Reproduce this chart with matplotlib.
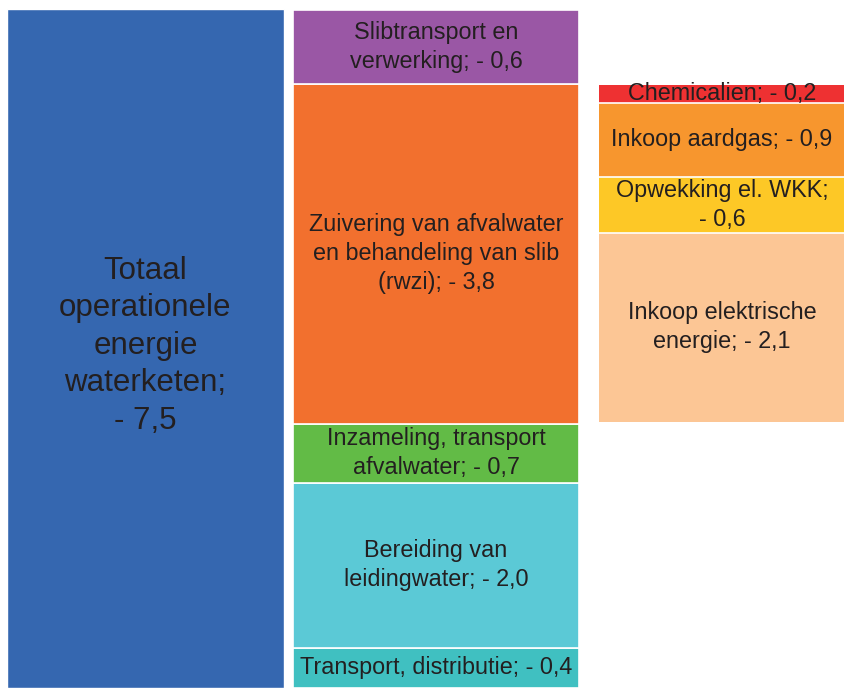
import matplotlib.pyplot as plt

plt.rcParams['font.family'] = ['Liberation Sans', 'DejaVu Sans']

# kolom 1: totaal
totaal_label = 'Totaal\noperationele\nenergie\nwaterketen;\n- 7,5'
totaal_hoogte = 7.55

# kolom 2: ketenstappen (van onder naar boven)
keten_labels = ['Transport, distributie; - 0,4',
                'Bereiding van\nleidingwater; - 2,0',
                'Inzameling, transport\nafvalwater; - 0,7',
                'Zuivering van afvalwater\nen behandeling van slib\n(rwzi); - 3,8',
                'Slibtransport en\nverwerking; - 0,6']
keten_hoogte = [0.45, 1.83, 0.66, 3.78, 0.82]
keten_kleuren = ['#40C0C1', '#5BC9D6', '#62BB46', '#F2702E', '#9A57A5']

# kolom 3: uitsplitsing rwzi (van onder naar boven)
rwzi_labels = ['Inkoop elektrische\nenergie; - 2,1',
               'Opwekking el. WKK;\n- 0,6',
               'Inkoop aardgas; - 0,9',
               'Chemicalien; - 0,2']
rwzi_hoogte = [2.10, 0.62, 0.83, 0.20]
rwzi_kleuren = ['#FCC695', '#FDC826', '#F7962E', '#EE3132']

fig = plt.figure(figsize=(8.45, 6.88), dpi=100)
ax = fig.add_axes([0, 0, 1, 1])

tekst = dict(ha='center', va='center', color='#231F20', fontsize=16.8, linespacing=1.32)

# totaal
ax.bar(7, totaal_hoogte, width=277, align='edge', color='#3567B0',
       edgecolor='white', linewidth=1)
ax.text(7 + 277 / 2, totaal_hoogte / 2 + 0.03, totaal_label, ha='center', va='center',
        color='#231F20', fontsize=22.5, linespacing=1.32)

# ketenstappen
onder = 0
for lab, h, kl in zip(keten_labels, keten_hoogte, keten_kleuren):
    ax.bar(293, h, width=286, bottom=onder, align='edge', color=kl,
           edgecolor='white', linewidth=1.2)
    ax.text(293 + 286 / 2, onder + h / 2, lab, **tekst)
    onder += h

# rwzi uitsplitsing, begint onder het rwzi-blok
onder = sum(keten_hoogte[:3]) + 0.02
for lab, h, kl in zip(rwzi_labels, rwzi_hoogte, rwzi_kleuren):
    ax.bar(599, h, width=270, bottom=onder, align='edge', color=kl,
           edgecolor=kl, linewidth=0)
    ax.text(599 + 246 / 2, onder + h / 2, lab, **tekst)
    onder += h
# witte scheidingslijnen tussen de rwzi-blokken
grenzen = sum(keten_hoogte[:3]) + 0.02
for h in rwzi_hoogte[:-1]:
    grenzen += h
    ax.plot([599, 845], [grenzen, grenzen], color='white', linewidth=1.2)

ax.set_xlim(0, 845)
ax.set_ylim(0, 7.65)
ax.axis('off')

plt.savefig('out.png', dpi=100)
plt.close()
